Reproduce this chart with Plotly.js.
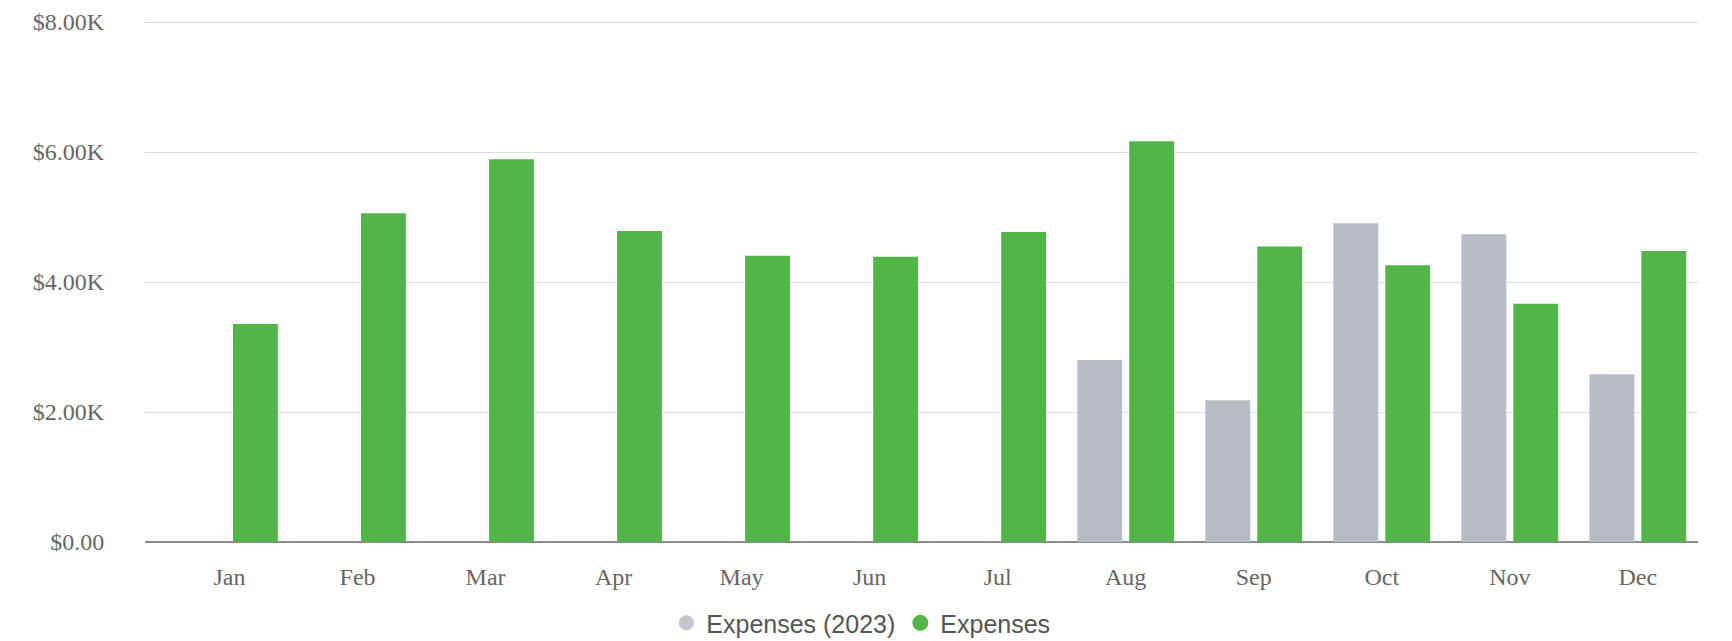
<!DOCTYPE html>
<html>
<head>
<meta charset="utf-8">
<script src="https://cdn.plot.ly/plotly-3.0.1.min.js"></script>
<style>
  html, body { margin: 0; padding: 0; background: #ffffff; }
  #chart { width: 1732px; height: 641px; }
</style>
</head>
<body>
<div id="chart"></div>
<script>
const months = ["Jan","Feb","Mar","Apr","May","Jun","Jul","Aug","Sep","Oct","Nov","Dec"];
const expenses2023 = [null,null,null,null,null,null,null,2800,2180,4905,4735,2580];
const expenses = [3355,5060,5890,4785,4405,4390,4770,6165,4548,4257,3665,4477];
const yTickVals = [0,2000,4000,6000,8000];
const yTickText = ["$0.00","$2.00K","$4.00K","$6.00K","$8.00K"];
const seriesNames = ["Expenses (2023)","Expenses"];

const grayColor = "#b8bcc3";
const greenColor = "#53b548";

const data = [
  {
    type: "bar", x: months, y: expenses2023, name: seriesNames[0],
    marker: {color: grayColor}, showlegend: false, hoverinfo: "x+y"
  },
  {
    type: "bar", x: months, y: expenses, name: seriesNames[1],
    marker: {color: greenColor}, showlegend: false, hoverinfo: "x+y"
  },
  {
    type: "scatter", mode: "markers", x: [null], y: [null], name: seriesNames[0],
    marker: {color: "#c3c6cc", size: 15, symbol: "circle"}, hoverinfo: "skip"
  },
  {
    type: "scatter", mode: "markers", x: [null], y: [null], name: seriesNames[1],
    marker: {color: greenColor, size: 16, symbol: "circle"}, hoverinfo: "skip"
  }
];

const layout = {
  width: 1732, height: 641,
  paper_bgcolor: "#ffffff", plot_bgcolor: "#ffffff",
  margin: {l: 145, r: 34, t: 21, b: 99, pad: 0},
  barmode: "group", bargap: 0.19, bargroupgap: 0.135,
  showlegend: true,
  legend: {
    orientation: "h", xref: "container", yref: "container",
    x: 0.497, xanchor: "center", y: 0.028, yanchor: "middle",
    font: {family: "Liberation Sans, Arial, sans-serif", size: 25, color: "#555555"},
    itemclick: false, itemdoubleclick: false, traceorder: "normal"
  },
  xaxis: {
    type: "category", range: [-0.66, 11.47],
    showgrid: false, zeroline: false, showline: false,
    ticks: "outside", ticklen: 13, tickcolor: "rgba(0,0,0,0)",
    tickfont: {family: "Liberation Serif, Times New Roman, serif", size: 24, color: "#666666"},
    fixedrange: true
  },
  yaxis: {
    range: [0, 8016], tickvals: yTickVals, ticktext: yTickText,
    showgrid: true, gridcolor: "#dcdcdc", gridwidth: 1,
    zeroline: true, zerolinecolor: "#8a8a8a", zerolinewidth: 1.5,
    showline: false,
    ticks: "outside", ticklen: 35, tickcolor: "rgba(0,0,0,0)",
    tickfont: {family: "Liberation Serif, Times New Roman, serif", size: 24, color: "#666666"},
    fixedrange: true
  }
};

Plotly.newPlot("chart", data, layout, {displayModeBar: false, staticPlot: true});
</script>
</body>
</html>
